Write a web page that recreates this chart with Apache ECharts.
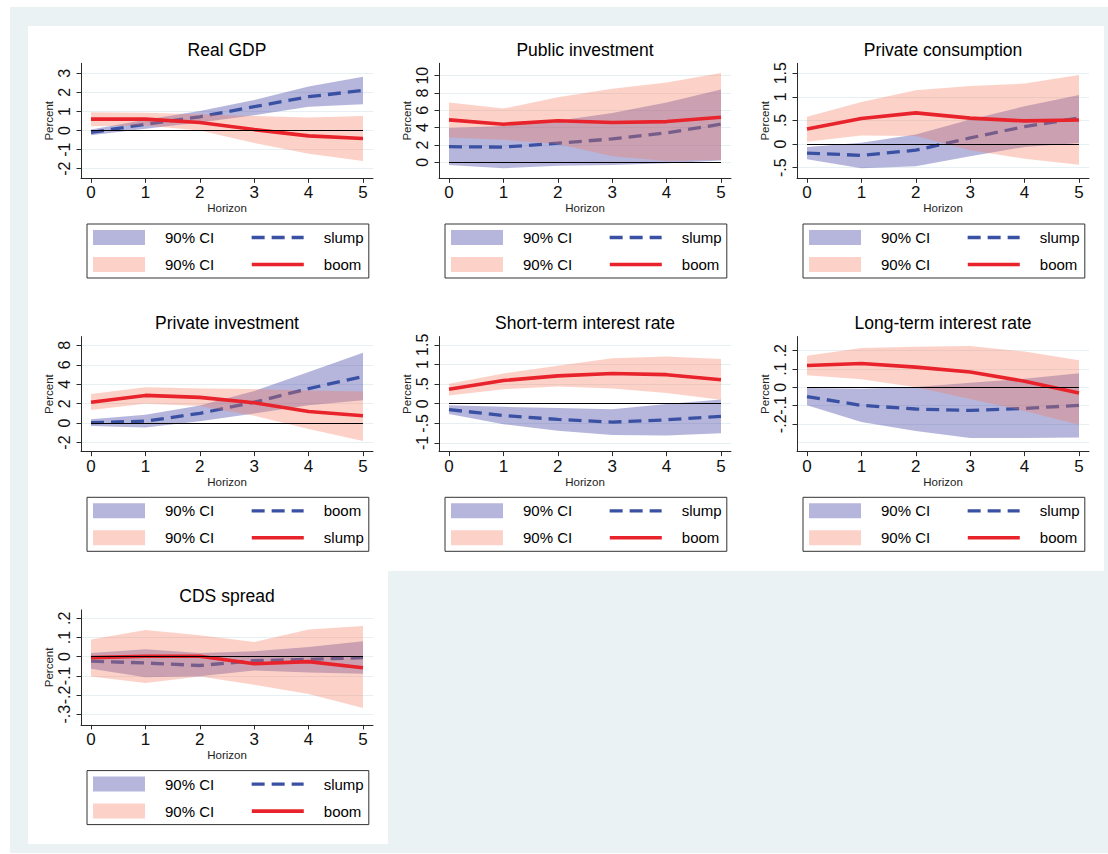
<!DOCTYPE html>
<html><head><meta charset="utf-8">
<script src="https://cdn.jsdelivr.net/npm/echarts@6/dist/echarts.min.js"></script>
<style>
html,body{margin:0;padding:0;background:#fff;}
#bg1{position:absolute;left:10px;top:7px;width:1098px;height:846px;background:#eaf2f3;}
#bg2{position:absolute;left:28px;top:26px;width:1076px;height:545px;background:#fff;}
#bg3{position:absolute;left:28px;top:571px;width:360px;height:273px;background:#fff;}
#chart{position:absolute;left:0;top:0;width:1108px;height:854px;}
</style></head><body>
<div id="bg1"></div><div id="bg2"></div><div id="bg3"></div>
<div id="chart"></div>
<script>
const HORIZON = [0, 1, 2, 3, 4, 5];

// Real GDP
const gdpBlue   = [-0.10, 0.33, 0.72, 1.25, 1.77, 2.10];
const gdpBlueLo = [-0.25, 0.10, 0.42, 0.80, 1.25, 1.37];
const gdpBlueHi = [ 0.05, 0.56, 1.02, 1.60, 2.30, 2.82];
const gdpRed    = [ 0.60, 0.60, 0.42, 0.05, -0.28, -0.42];
const gdpRedLo  = [ 0.22, 0.27, 0.00, -0.65, -1.21, -1.60];
const gdpRedHi  = [ 0.96, 0.93, 0.85, 0.76, 0.68, 0.76];
const gdpTicks  = [-2, -1, 0, 1, 2, 3];

// Public investment
const pubBlue   = [1.80, 1.75, 2.20, 2.70, 3.40, 4.40];
const pubBlueLo = [-0.30, -0.70, -0.40, -0.30, -0.10, 0.20];
const pubBlueHi = [3.95, 4.20, 4.80, 5.70, 6.90, 8.40];
const pubRed    = [4.90, 4.40, 4.80, 4.60, 4.70, 5.20];
const pubRedLo  = [2.85, 2.60, 2.10, 0.70, 0.15, 0.30];
const pubRedHi  = [6.90, 6.20, 7.50, 8.50, 9.20, 10.30];
const pubTicks  = [0, 2, 4, 6, 8, 10];

// Private consumption
const pcBlue   = [-0.19, -0.24, -0.13, 0.13, 0.37, 0.55];
const pcBlueLo = [-0.32, -0.51, -0.47, -0.26, -0.06, 0.02];
const pcBlueHi = [-0.06, 0.03, 0.20, 0.52, 0.80, 1.04];
const pcRed    = [0.32, 0.54, 0.66, 0.55, 0.49, 0.51];
const pcRedLo  = [0.05, 0.18, 0.17, -0.13, -0.31, -0.44];
const pcRedHi  = [0.58, 0.89, 1.14, 1.23, 1.28, 1.46];
const pcTicks  = [-0.5, 0, 0.5, 1, 1.5];

// Private investment
const piBlue   = [0.05, 0.20, 1.00, 2.15, 3.55, 4.80];
const piBlueLo = [-0.30, -0.45, 0.20, 1.00, 1.85, 2.35];
const piBlueHi = [0.40, 0.85, 1.80, 3.30, 5.25, 7.25];
const piRed    = [2.15, 2.85, 2.65, 2.10, 1.20, 0.75];
const piRedLo  = [1.35, 2.00, 1.75, 0.75, -0.60, -1.85];
const piRedHi  = [3.00, 3.70, 3.55, 3.50, 3.35, 3.25];
const piTicks  = [-2, 0, 2, 4, 6, 8];

// Short-term interest rate
const stBlue   = [-0.15, -0.30, -0.40, -0.47, -0.41, -0.32];
const stBlueLo = [-0.26, -0.52, -0.69, -0.80, -0.81, -0.75];
const stBlueHi = [-0.04, -0.08, -0.11, -0.14, -0.01, 0.11];
const stRed    = [0.37, 0.59, 0.71, 0.77, 0.74, 0.61];
const stRedLo  = [0.21, 0.37, 0.44, 0.39, 0.27, 0.10];
const stRedHi  = [0.51, 0.77, 0.97, 1.16, 1.20, 1.14];
const stTicks  = [-1, -0.5, 0, 0.5, 1, 1.5];

// Long-term interest rate
const ltBlue   = [-0.051, -0.099, -0.119, -0.127, -0.116, -0.099];
const ltBlueLo = [-0.099, -0.190, -0.240, -0.277, -0.277, -0.275];
const ltBlueHi = [-0.004, -0.008, 0.002, 0.024, 0.046, 0.076];
const ltRed    = [0.119, 0.130, 0.110, 0.083, 0.033, -0.031];
const ltRedLo  = [0.066, 0.044, 0.000, -0.064, -0.130, -0.205];
const ltRedHi  = [0.172, 0.215, 0.222, 0.226, 0.195, 0.147];
const ltTicks  = [-0.3, -0.2, -0.1, 0, 0.1, 0.2];

// CDS spread
const cdsBlue   = [-0.023, -0.033, -0.046, -0.021, -0.014, -0.005];
const cdsBlueLo = [-0.063, -0.107, -0.102, -0.072, -0.082, -0.089];
const cdsBlueHi = [0.019, 0.039, 0.019, 0.028, 0.051, 0.081];
const cdsRed    = [-0.005, 0.002, 0.002, -0.037, -0.026, -0.058];
const cdsRedLo  = [-0.104, -0.137, -0.104, -0.147, -0.195, -0.268];
const cdsRedHi  = [0.090, 0.139, 0.112, 0.077, 0.142, 0.160];
const cdsTicks  = [-0.3, -0.2, -0.1, 0, 0.1, 0.2];

const CI_LABEL = '90% CI';
const X_NAME = 'Horizon';
const Y_NAME = 'Percent';

const panels = [
  {title: 'Real GDP', blue: gdpBlue, blueLo: gdpBlueLo, blueHi: gdpBlueHi, red: gdpRed, redLo: gdpRedLo, redHi: gdpRedHi, ticks: gdpTicks, yMin: -2.5, yMax: 3.52, blueLabel: 'slump', redLabel: 'boom'},
  {title: 'Public investment', blue: pubBlue, blueLo: pubBlueLo, blueHi: pubBlueHi, red: pubRed, redLo: pubRedLo, redHi: pubRedHi, ticks: pubTicks, yMin: -1.85, yMax: 11.43, blueLabel: 'slump', redLabel: 'boom'},
  {title: 'Private consumption', blue: pcBlue, blueLo: pcBlueLo, blueHi: pcBlueHi, red: pcRed, redLo: pcRedLo, redHi: pcRedHi, ticks: pcTicks, yMin: -0.725, yMax: 1.71, blueLabel: 'slump', redLabel: 'boom'},
  {title: 'Private investment', blue: piBlue, blueLo: piBlueLo, blueHi: piBlueHi, red: piRed, redLo: piRedLo, redHi: piRedHi, ticks: piTicks, yMin: -2.93, yMax: 8.9, blueLabel: 'boom', redLabel: 'slump'},
  {title: 'Short-term interest rate', blue: stBlue, blueLo: stBlueLo, blueHi: stBlueHi, red: stRed, redLo: stRedLo, redHi: stRedHi, ticks: stTicks, yMin: -1.22, yMax: 1.71, blueLabel: 'slump', redLabel: 'boom'},
  {title: 'Long-term interest rate', blue: ltBlue, blueLo: ltBlueLo, blueHi: ltBlueHi, red: ltRed, redLo: ltRedLo, redHi: ltRedHi, ticks: ltTicks, yMin: -0.352, yMax: 0.277, blueLabel: 'slump', redLabel: 'boom'},
  {title: 'CDS spread', blue: cdsBlue, blueLo: cdsBlueLo, blueHi: cdsBlueHi, red: cdsRed, redLo: cdsRedLo, redHi: cdsRedHi, ticks: cdsTicks, yMin: -0.356, yMax: 0.244, blueLabel: 'slump', redLabel: 'boom'}
];

const FONT = '"Liberation Sans", Arial, Helvetica, sans-serif';
const BLUE_BAND = 'rgba(72,72,170,0.40)';
const RED_BAND = 'rgba(246,118,88,0.33)';
const BLUE_LINE = '#3a51a3';
const RED_LINE = '#e8232b';
const DASH = [13, 7];
const GRID_COLOR = '#e6eff2';
const AXIS_COLOR = '#2a2a2a';

function stataFmt(v) {
  const s = String(+Number(v).toFixed(4));
  return s.replace(/^(-?)0\./, '$1.');
}

function bandSeries(name, idx, lo, hi, color, z) {
  return {
    type: 'custom', name: name, xAxisIndex: idx, yAxisIndex: idx, z: z,
    silent: true, animation: false,
    itemStyle: {color: color},
    encode: {x: 0, y: [1, 2]},
    data: HORIZON.map((h, k) => [h, lo[k], hi[k]]),
    renderItem: function (params, api) {
      if (params.dataIndexInside !== 0) return null;
      const n = params.dataInsideLength;
      const up = [], dn = [];
      for (let k = 0; k < n; k++) {
        const x = api.value(0, k);
        up.push(api.coord([x, api.value(2, k)]));
        dn.push(api.coord([x, api.value(1, k)]));
      }
      return {type: 'polygon', shape: {points: up.concat(dn.reverse())}, style: {fill: color, stroke: null}};
    }
  };
}

function lineSeries(name, idx, vals, color, dashed, width, z, zeroLine) {
  const s = {
    type: 'line', name: name, xAxisIndex: idx, yAxisIndex: idx, z: z,
    silent: true, animation: false, symbol: 'none', showSymbol: false,
    itemStyle: {color: color},
    lineStyle: {color: color, width: width, type: dashed ? DASH : 'solid', cap: 'butt'},
    data: HORIZON.map((h, k) => [h, vals[k]])
  };
  if (zeroLine) {
    s.markLine = {
      silent: true, animation: false, symbol: ['none', 'none'],
      label: {show: false},
      lineStyle: {color: '#000', width: 1, type: 'solid'},
      emphasis: {disabled: true},
      data: [[{coord: [HORIZON[0], 0]}, {coord: [HORIZON[HORIZON.length - 1], 0]}]]
    };
  }
  return s;
}

const grids = [], xAxes = [], yAxes = [], titles = [], legends = [], series = [];

panels.forEach((p, i) => {
  const c = i % 3, r = Math.floor(i / 3);
  const left = 81 + 358 * c;
  const top = 63.3 + 273.3 * r;
  const w = 292, h = 115;
  grids.push({left: left, top: top, width: w, height: h, outerBoundsMode: 'none'});
  titles.push({
    text: p.title, left: left + w / 2, top: top - 22.5, textAlign: 'center', padding: 0,
    textStyle: {fontSize: 17.5, fontWeight: 'normal', color: '#000', fontFamily: FONT}
  });
  xAxes.push({
    type: 'value', gridIndex: i, min: -0.184, max: 5.184,
    name: X_NAME, nameLocation: 'middle', nameGap: 23,
    nameTextStyle: {fontSize: 11.5, color: '#222', fontFamily: FONT},
    axisLine: {show: true, onZero: false, lineStyle: {color: AXIS_COLOR, width: 1}},
    axisTick: {show: true, length: 4.5, customValues: HORIZON, lineStyle: {color: AXIS_COLOR}},
    axisLabel: {show: true, margin: 6, fontSize: 17, color: '#111', fontFamily: FONT, customValues: HORIZON},
    splitLine: {show: false}
  });
  yAxes.push({
    type: 'value', gridIndex: i, min: p.yMin, max: p.yMax,
    name: Y_NAME, nameLocation: 'middle', nameGap: 23, nameRotate: 90,
    nameTextStyle: {fontSize: 11.5, color: '#222', fontFamily: FONT},
    axisLine: {show: true, onZero: false, lineStyle: {color: AXIS_COLOR, width: 1}},
    axisTick: {show: true, length: 4.5, customValues: p.ticks, lineStyle: {color: AXIS_COLOR}},
    axisLabel: {show: true, rotate: 90, margin: 9, fontSize: 16, lineHeight: 16, color: '#111', fontFamily: FONT,
      customValues: p.ticks, formatter: stataFmt},
    splitLine: {show: true, lineStyle: {color: GRID_COLOR, width: 1.2}}
  });

  const bBand = CI_LABEL + '|b' + i, rBand = CI_LABEL + '|r' + i;
  const bLine = p.blueLabel + '|' + i, rLine = p.redLabel + '|' + i;

  series.push(bandSeries(bBand, i, p.blueLo, p.blueHi, BLUE_BAND, 2));
  series.push(lineSeries(bLine, i, p.blue, BLUE_LINE, true, 3.3, 2, true));
  series.push(bandSeries(rBand, i, p.redLo, p.redHi, RED_BAND, 3));
  series.push(lineSeries(rLine, i, p.red, RED_LINE, false, 3.6, 3, false));

  legends.push({
    left: 87 + 358 * c, top: top + 160.7,
    orient: 'horizontal', width: 300, itemGap: 12, itemWidth: 52, itemHeight: 15,
    padding: [6, 5, 6, 6], borderColor: '#333', borderWidth: 1, backgroundColor: '#fff',
    selectedMode: false,
    textStyle: {fontSize: 15, lineHeight: 15, color: '#000', fontFamily: FONT},
    formatter: n => n.split('|')[0],
    data: [
      {name: bBand, icon: 'rect', itemStyle: {color: BLUE_BAND, borderWidth: 0}, textStyle: {width: 73, padding: [0, 0, 0, 15]}},
      {name: bLine, itemStyle: {opacity: 0}, lineStyle: {color: BLUE_LINE, width: 3.3, type: DASH}, textStyle: {width: 40, padding: [0, 0, 0, 15]}},
      {name: rBand, icon: 'rect', itemStyle: {color: RED_BAND, borderWidth: 0}, textStyle: {width: 73, padding: [0, 0, 0, 15]}},
      {name: rLine, itemStyle: {opacity: 0}, lineStyle: {color: RED_LINE, width: 3.6, type: 'solid'}, textStyle: {width: 40, padding: [0, 0, 0, 15]}}
    ]
  });
});

const chart = echarts.init(document.getElementById('chart'), null, {renderer: 'svg'});
chart.setOption({
  backgroundColor: 'transparent',
  animation: false,
  title: titles,
  legend: legends,
  grid: grids,
  xAxis: xAxes,
  yAxis: yAxes,
  series: series
});
</script></body></html>
